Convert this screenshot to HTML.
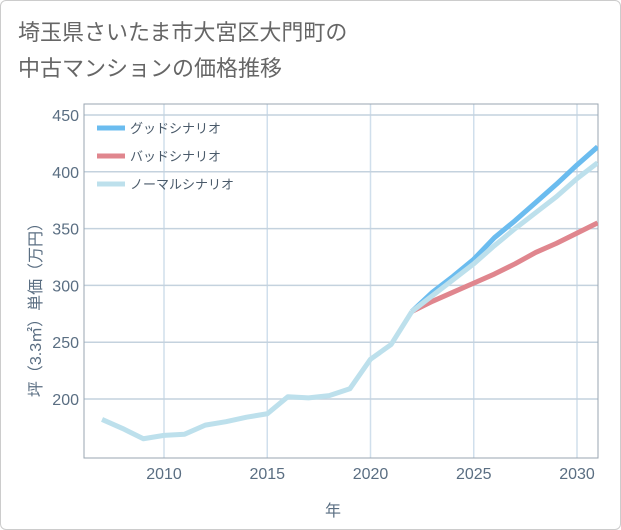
<!DOCTYPE html>
<html><head><meta charset="utf-8">
<style>
body{margin:0;background:#fff;}
#wrap{position:relative;width:619px;height:528px;border:1px solid #ccc;border-radius:6px;overflow:hidden;font-family:"Liberation Sans","Noto Sans CJK JP",sans-serif;}
#title{position:absolute;left:17px;top:14px;font-size:22px;line-height:36px;color:#666;}
svg{position:absolute;left:0;top:0;}
</style></head><body>
<div id="wrap">
<div id="title">埼玉県さいたま市大宮区大門町の<br>中古マンションの価格推移</div>
<svg id="chart" width="621" height="530"></svg>
</div>
<script>
const years=[2007,2008,2009,2010,2011,2012,2013,2014,2015,2016,2017,2018,2019,2020,2021,2022];
const history=[182,174,165,168,169,177,180,184,187,202,201,203,209,235,248,277];
const fYears=[2022,2023,2024,2025,2026,2027,2028,2029,2030,2031];
const good=[277,294,308,323,342,357,373,389,406,422];
const bad=[277,286,294,302,310,319,329,337,346,355];
const normal=[277,291,305,319,335,350,364,378,394,408];
const xTicks=[2010,2015,2020,2025,2030];
const yTicks=[200,250,300,350,400,450];
const NS="http://www.w3.org/2000/svg";
const svg=document.getElementById('chart');
const L=83,R=597,T=103,B=457;
const X=v=>163+(v-2010)*20.65;
const Y=v=>398-(v-200)*1.136;
function mk(t,a){const e=document.createElementNS(NS,t);for(const k in a)e.setAttribute(k,a[k]);svg.appendChild(e);return e;}
const clip=mk('clipPath',{id:'c'});
const cr=document.createElementNS(NS,'rect');cr.setAttribute('x',L);cr.setAttribute('y',T);cr.setAttribute('width',R-L);cr.setAttribute('height',B-T);clip.appendChild(cr);
xTicks.forEach(v=>{
 const l=mk('line',{x1:X(v),x2:X(v),y1:T,y2:B,stroke:'#d0dfec','stroke-width':1.5});
 
 
 const t=mk('text',{x:X(v),y:478,'text-anchor':'middle','font-size':16,fill:'#5a6e82'});
 
 
 t.textContent=v;
});
yTicks.forEach(v=>{
 const l=mk('line',{x1:L,x2:R,y1:Y(v),y2:Y(v),stroke:'#c4d2de','stroke-width':1.5});
 
 
 const t=mk('text',{x:78,y:Y(v)+6,'text-anchor':'end','font-size':16,fill:'#5a6e82'});
 
 
 t.textContent=v;
});
const fr=mk('rect',{x:L,y:T,width:R-L,height:B-T,fill:'none',stroke:'#9aa5b0','stroke-width':1});


function line(xs,ys,c,name){
 const p=mk('polyline',{points:xs.map((x,i)=>X(x)+','+Y(ys[i])).join(' '),fill:'none',stroke:c,'stroke-width':5,'stroke-linejoin':'round','clip-path':'url(#c)'});
 
 
}
line(fYears,good,'#6bbcef','good-scenario-line');
line(fYears,bad,'#e0868e','bad-scenario-line');
line(fYears,normal,'#bde0ec','normal-scenario-line');
line(years,history,'#bde0ec','history-line');
const leg=[['グッドシナリオ','#6bbcef'],['バッドシナリオ','#e0868e'],['ノーマルシナリオ','#bde0ec']];
leg.forEach((d,i)=>{
 const y=127+i*28;
 const l=mk('line',{x1:96,x2:124,y1:y,y2:y,stroke:d[1],'stroke-width':5});
 
 
 const t=mk('text',{x:129,y:y+5,'font-size':13,fill:'#4a5a6a'});
 
 
 t.textContent=d[0];
});
const xt=mk('text',{x:332,y:515,'text-anchor':'middle','font-size':16,fill:'#5a6e82'});


xt.textContent='年';
const yt=mk('text',{x:0,y:0,'text-anchor':'middle','font-size':16,fill:'#5a6e82',transform:'translate(40,305) rotate(-90)'});


yt.textContent='坪（3.3㎡）単価（万円）';
</script>
</body></html>
